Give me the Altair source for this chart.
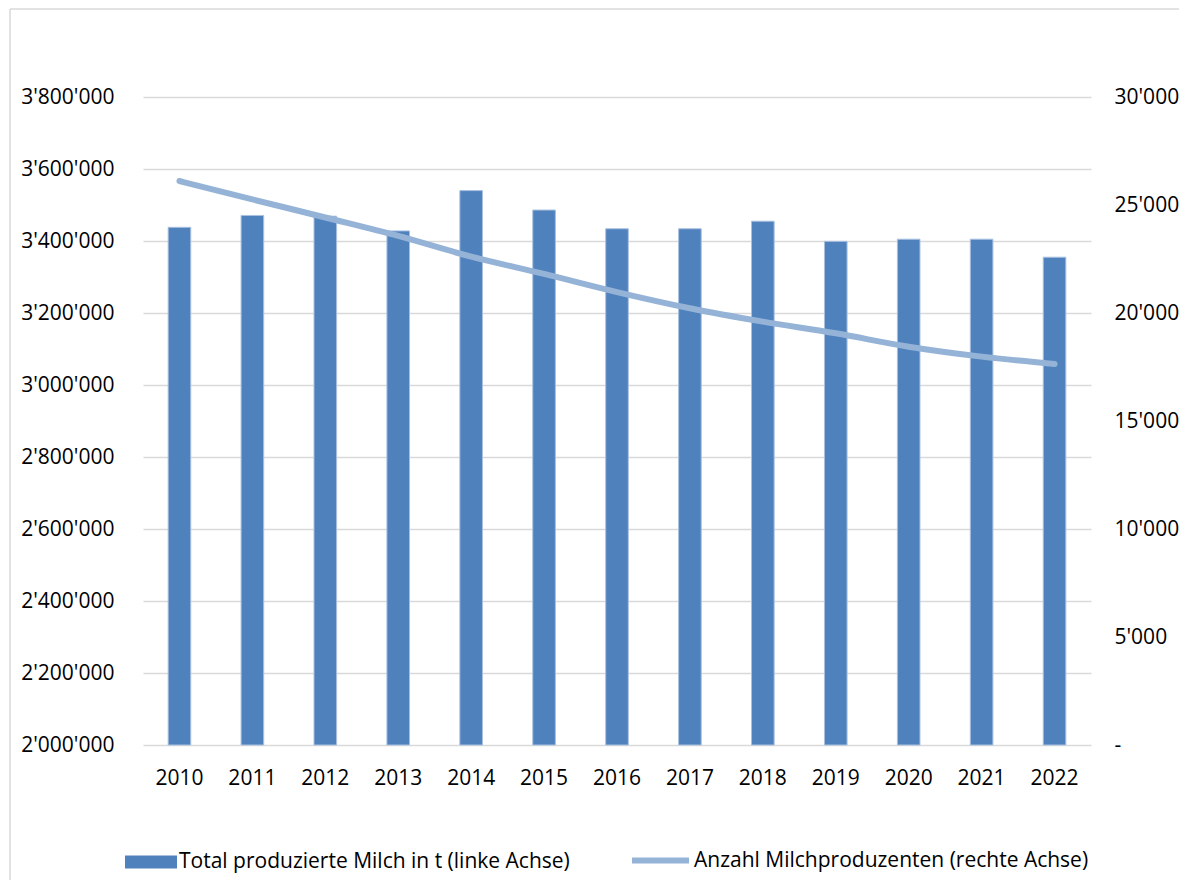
import altair as alt
import pandas as pd

years = [str(y) for y in range(2010, 2023)]
milk_t = [3438000, 3471000, 3469000, 3428000, 3540000, 3486000, 3434000,
          3434000, 3455000, 3399000, 3405000, 3405000, 3355000]
producers = [26110, 25260, 24420, 23570, 22610, 21810, 20970,
             20220, 19600, 19060, 18440, 17980, 17640]

bar_label = "Total produzierte Milch in t (linke Achse)"
line_label = "Anzahl Milchproduzenten (rechte Achse)"
left_ticks = list(range(2000000, 3800001, 200000))
right_ticks = list(range(0, 30001, 5000))

df = pd.DataFrame({"Jahr": years, "Milch": milk_t, "Produzenten": producers,
                   "s_bar": [bar_label] * len(years), "s_line": [line_label] * len(years)})

FONT = "Open Sans"
BAR_COLOR = "#4F81BD"
LINE_COLOR = "#95B3D7"
fmt = 'replace(format(datum.value, ","), regexp(",", "g"), "\'")'

x_enc = alt.X("Jahr:N",
              scale=alt.Scale(type="band", paddingInner=0.69, paddingOuter=0.345),
              axis=alt.Axis(title=None, labelAngle=0, domain=False, ticks=False,
                            labelPadding=22, grid=False))

bars = alt.Chart(df).mark_bar(stroke="#a9c0e0", strokeWidth=1).encode(
    x=x_enc,
    y=alt.Y("Milch:Q",
            scale=alt.Scale(domain=[2000000, 3800000], zero=False, nice=False),
            axis=alt.Axis(title=None, values=left_ticks, labelExpr=fmt, domain=False,
                          ticks=False, grid=True, gridColor="#d9d9d9", gridWidth=1.5,
                          labelPadding=29, orient="left")),
    y2=alt.datum(2000000),
    fill=alt.Fill("s_bar:N",
                  scale=alt.Scale(domain=[bar_label], range=[BAR_COLOR]),
                  legend=alt.Legend(title=None, orient="none", legendX=-18, legendY=739,
                                    symbolType="M-1,-0.25H1V0.25H-1Z", symbolSize=2704,
                                    symbolStrokeWidth=0, labelOffset=2, padding=0,
                                    labelLimit=700)),
)

line = alt.Chart(df).mark_line(strokeWidth=6, interpolate="monotone", strokeCap="round").encode(
    x=x_enc,
    y=alt.Y("Produzenten:Q",
            scale=alt.Scale(domain=[0, 30000], nice=False),
            axis=alt.Axis(title=None, values=right_ticks,
                          labelExpr="datum.value == 0 ? '-' : " + fmt,
                          domain=False, ticks=False, grid=False, labelPadding=23,
                          orient="right")),
    stroke=alt.Stroke("s_line:N",
                      scale=alt.Scale(domain=[line_label], range=[LINE_COLOR]),
                      legend=alt.Legend(title=None, orient="none", legendX=486, legendY=732,
                                        symbolType="stroke", symbolSize=3249,
                                        symbolStrokeWidth=6, labelOffset=2, padding=0,
                                        labelLimit=700)),
)

frame_df = pd.DataFrame({"k": [0]})
frame_top = alt.Chart(frame_df).mark_rule(stroke="#d9d9d9", strokeWidth=1.5).encode(
    x=alt.value(-133), x2=alt.value(1400), y=alt.value(-88))
frame_left = alt.Chart(frame_df).mark_rule(stroke="#d9d9d9", strokeWidth=1.5).encode(
    x=alt.value(-133), y=alt.value(-88), y2=alt.value(1000))

chart = alt.layer(frame_top, frame_left, bars, line).resolve_scale(y="independent").properties(
    width=948, height=648,
    autosize=alt.AutoSizeParams(type="none"),
    padding={"left": 135, "top": 89, "right": 88, "bottom": 135},
).configure_view(stroke=None).configure_axis(
    labelFont=FONT, labelFontSize=21, labelColor="#000000"
).configure_legend(
    labelFont=FONT, labelFontSize=21, labelColor="#000000"
)

chart.save("out.html", embed_options={"renderer": "svg", "actions": False})
